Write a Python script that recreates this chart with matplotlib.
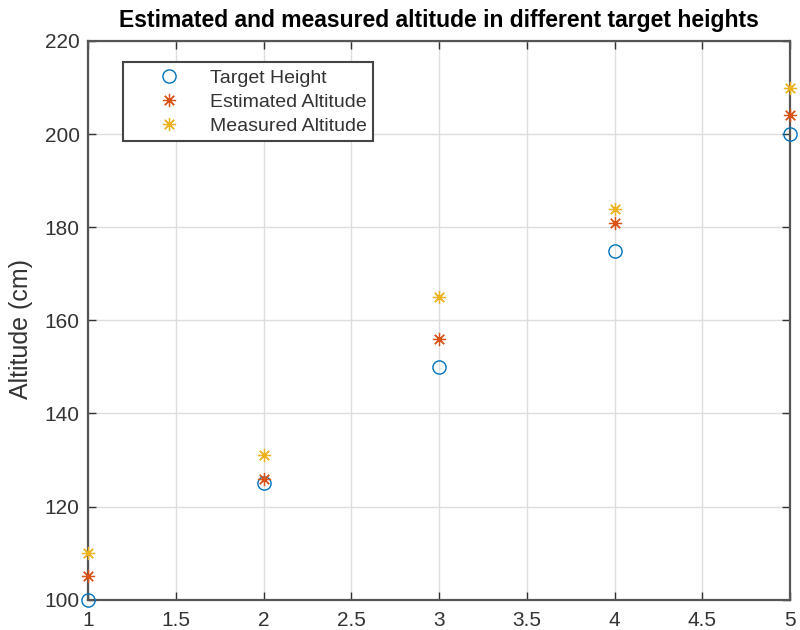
import matplotlib
matplotlib.use('Agg')
import matplotlib.pyplot as plt
import numpy as np

# data
trial = [1, 2, 3, 4, 5]
target_height = [100, 125, 150, 175, 200]
estimated_alt = [105, 126, 156, 181, 204]
measured_alt = [110, 131, 165, 184, 210]

plt.rcParams['font.family'] = ['Liberation Sans', 'DejaVu Sans']

fig = plt.figure(figsize=(8, 6.3), dpi=100)
ax = fig.add_axes([0.11, 0.048, 0.8775, 0.887])

ax.plot(trial, target_height, 'o', mfc='none', mec=(0, 0.447, 0.741), ms=9.5, mew=1.0,
        label='Target Height', clip_on=False, zorder=3)
ax.plot(trial, estimated_alt, ls='none', marker=(8, 2, 0), color=(0.85, 0.325, 0.098), ms=9.5, mew=0.9,
        label='Estimated Altitude', clip_on=False, zorder=3)
ax.plot(trial, measured_alt, ls='none', marker=(8, 2, 0), color=(0.929, 0.694, 0.125), ms=9.5, mew=0.9,
        label='Measured Altitude', clip_on=False, zorder=3)

ax.set_xlim(1, 5)
ax.set_ylim(100, 220)
ax.set_xticks(np.arange(1, 5.01, 0.5))
ax.set_xticklabels(['1', '1.5', '2', '2.5', '3', '3.5', '4', '4.5', '5'])
ax.set_yticks(range(100, 221, 20))

ax.grid(True, color='#dedede', linewidth=1.0)
ax.set_axisbelow(True)
for s in ax.spines.values():
    s.set_color('#555555')
    s.set_linewidth(1.6)
ax.tick_params(direction='in', top=True, right=True, length=6, width=1.0,
               labelsize=15, colors='#333333')
ax.tick_params(axis='x', pad=8)
ax.tick_params(axis='y', pad=6)

ax.set_ylabel('Altitude (cm)', fontsize=18, color='#333333')
ax.yaxis.set_label_coords(-0.078, 0.485)
ax.set_title('Estimated and measured altitude in different target heights',
             fontsize=16.5, fontweight='bold', pad=10)

leg = ax.legend(loc='upper left', bbox_to_anchor=(0.05, 0.962), borderaxespad=0,
                fontsize=14, fancybox=False, edgecolor='#444444', framealpha=1,
                handletextpad=0.1, borderpad=0.35, labelspacing=0.33, handlelength=4.0)
leg.get_frame().set_linewidth(1.5)
for t in leg.get_texts():
    t.set_color('#333333')

fig.savefig('out.png', dpi=100)
